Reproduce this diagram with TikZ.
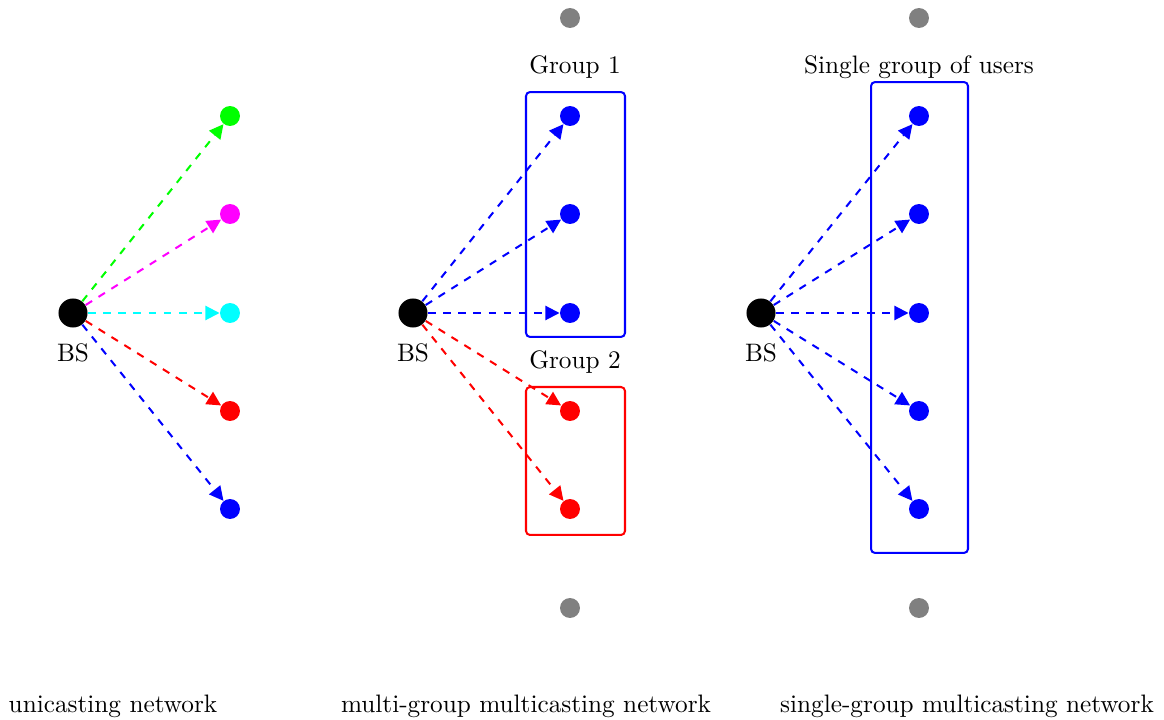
\documentclass[tikz,border=0pt]{standalone}
\usetikzlibrary{arrows.meta}
\definecolor{pmagenta}{RGB}{255,0,255}
\definecolor{pcyan}{RGB}{0,255,255}
\definecolor{pgreen}{RGB}{0,255,0}
\begin{document}
\begin{tikzpicture}[x=0.396pt,y=-0.396pt,
  bs/.style={circle,fill=black,inner sep=0pt,minimum size=11.5pt},
  user/.style={circle,fill=#1,inner sep=0pt,minimum size=7.9pt},
  link/.style={draw=#1,thick,dashed,-{Triangle[length=5.6pt,width=5.6pt]}},
  grp/.style={draw=#1,thick,rounded corners=1.6pt,inner sep=0pt},
  lbl/.style={inner sep=0pt,font=\normalsize}]
\useasboundingbox (0,0) rectangle (1164,720);

% ---------- unicasting ----------
\node[bs] (bsL) at (73,313) {};
\node[lbl] (bsLtxt) at (73,353) {BS};
\node[user=pgreen]   (uL1) at (230,116) {};
\node[user=pmagenta] (uL2) at (230,214) {};
\node[user=pcyan]    (uL3) at (230,313) {};
\node[user=red]      (uL4) at (230,411) {};
\node[user=blue]     (uL5) at (230,509) {};
\draw[link=pgreen]   (bsL) -- (uL1);
\draw[link=pmagenta] (bsL) -- (uL2);
\draw[link=pcyan]    (bsL) -- (uL3);
\draw[link=red]      (bsL) -- (uL4);
\draw[link=blue]     (bsL) -- (uL5);
\node[lbl] (capL) at (113,706) {unicasting network};

% ---------- multi-group multicasting ----------
\node[grp=blue,minimum width=39.2pt,minimum height=97pt] (g1) at (575.5,214.5) {};
\node[grp=red,minimum width=39.2pt,minimum height=58.6pt] (g2) at (575.5,461) {};
\node[lbl] (g1txt) at (575,67) {Group 1};
\node[lbl] (g2txt) at (575,362) {Group 2};
\node[bs] (bsM) at (413,313) {};
\node[lbl] (bsMtxt) at (413,353) {BS};
\node[user=gray] (uMtop) at (570,18) {};
\node[user=blue] (uM1) at (570,116) {};
\node[user=blue] (uM2) at (570,214) {};
\node[user=blue] (uM3) at (570,313) {};
\node[user=red]  (uM4) at (570,411) {};
\node[user=red]  (uM5) at (570,509) {};
\node[user=gray] (uMbot) at (570,608) {};
\draw[link=blue] (bsM) -- (uM1);
\draw[link=blue] (bsM) -- (uM2);
\draw[link=blue] (bsM) -- (uM3);
\draw[link=red]  (bsM) -- (uM4);
\draw[link=red]  (bsM) -- (uM5);
\node[lbl] (capM) at (526,706) {multi-group multicasting network};

% ---------- single-group multicasting ----------
\node[grp=blue,minimum width=38.4pt,minimum height=186.5pt] (g3) at (919.5,317.5) {};
\node[lbl] (g3txt) at (919,67) {Single group of users};
\node[bs] (bsR) at (761,313) {};
\node[lbl] (bsRtxt) at (761,353) {BS};
\node[user=gray] (uRtop) at (919,18) {};
\node[user=blue] (uR1) at (919,116) {};
\node[user=blue] (uR2) at (919,214) {};
\node[user=blue] (uR3) at (919,313) {};
\node[user=blue] (uR4) at (919,411) {};
\node[user=blue] (uR5) at (919,509) {};
\node[user=gray] (uRbot) at (919,608) {};
\foreach \i in {1,...,5} \draw[link=blue] (bsR) -- (uR\i);
\node[lbl] (capR) at (967,706) {single-group multicasting network};
\end{tikzpicture}
\end{document}
